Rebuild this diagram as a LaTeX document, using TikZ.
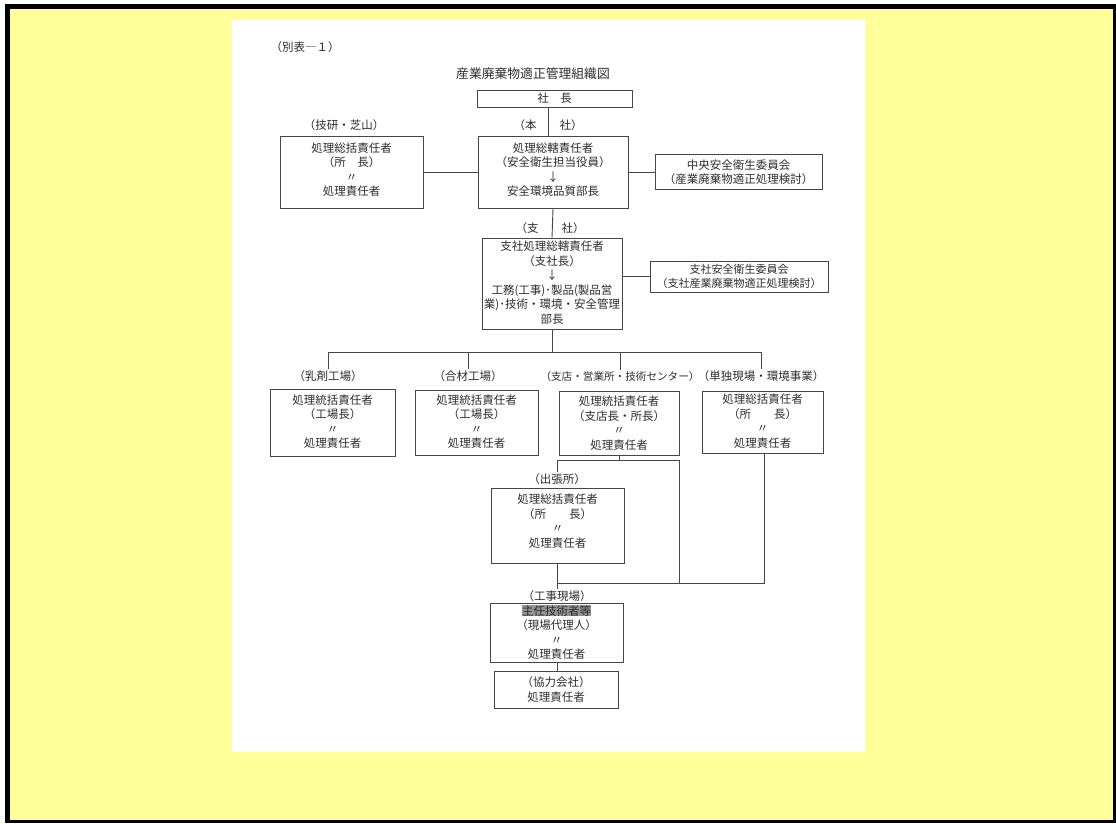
\documentclass[tikz,border=0pt]{standalone}
\usepackage{fontspec}
\newfontfamily\jp{Noto Sans CJK JP}
\definecolor{bgyellow}{RGB}{255,255,153}
\definecolor{ink}{RGB}{45,45,45}
\definecolor{rule}{RGB}{70,70,70}
\newcommand\jpf{\jp\fontsize{11.5}{14.5}\selectfont}
\newcommand\jps{\jp\fontsize{10.6}{14.5}\selectfont}
\newcommand\dn[1]{\rule[-#1]{0pt}{#1}}
\begin{document}
\begin{tikzpicture}[x=1pt,y=-1pt,
  box/.style={draw=rule, line width=0.9pt, inner sep=1pt, align=center, font=\jpf, text=ink},
  lbl/.style={inner sep=1pt, font=\jpf, text=ink},
  link/.style={draw=rule, line width=0.9pt}]
\useasboundingbox (0,0) rectangle (1116,823);
% frame and page
\fill[black] (5,4) rectangle (1116,823);
\fill[bgyellow] (10,9) rectangle (1113,820);
\fill[white] (232,20) rectangle (865,752);

% titles
\node[lbl] (betsu) at (305,47) {（別表―１）};
\node[lbl, font=\jp\fontsize{12.8}{15}\selectfont] (title) at (533,74) {産業廃棄物適正管理組織図};

% top
\node[box, minimum width=155pt, minimum height=17pt] (shacho) at (554.5,98.5) {社　長};
\node[lbl] (gikenL) at (344,125) {（技研・芝山）};
\node[lbl] (honshaL) at (548,125) {（本　　社）};
\node[box, minimum width=143pt, minimum height=72pt] (giken) at (351.5,172) {処理総括責任者\\（所　長）\\〃\\処理責任者\dn{6pt}};
\node[box, minimum width=150pt, minimum height=72pt] (honsha) at (553,172) {処理総轄責任者\\（安全衛生担当役員）\\↓\\安全環境品質部長\dn{6pt}};
\node[box, minimum width=167pt, minimum height=35pt] (chuo) at (738.5,172) {中央安全衛生委員会\\（産業廃棄物適正処理検討）};

\draw[link] ([xshift=-6pt]shacho.south) -- ([xshift=-6pt]shacho.south |- honsha.north);
\draw[link] (giken.east) -- (honsha.west);
\draw[link] (honsha.east) -- (chuo.west);

% branch office
\node[lbl] (shishaL) at (550,228) {（支　　社）};
\node[box, minimum width=140pt, minimum height=91pt, inner xsep=0pt] (shisha) at (552,283.5) {支社処理総轄責任者\\（支社長）\\↓\\工務(工事)･製品(製品営\\業)･技術・環境・安全管理\\部長\dn{3pt}};
\node[box, minimum width=178pt, minimum height=31pt, font=\jp\fontsize{11}{13.5}\selectfont] (shiiin) at (739,276.5) {支社安全衛生委員会\\（支社産業廃棄物適正処理検討）};

\draw[link] (honsha.south) -- (shisha.north);
\draw[link] (shisha.east |- shiiin.west) -- (shiiin.west);

% row of sites
\node[lbl] (nyuzaiL) at (328,376) {（乳剤工場）};
\node[lbl] (gozaiL) at (468,376) {（合材工場）};
\node[lbl, font=\jps] (shitenL) at (620,376) {（支店・営業所・技術センター）};
\node[lbl] (tandokuL) at (761,376) {（単独現場・環境事業）};

\coordinate (bus) at (0,352);
\draw[link] (shisha.south) -- (shisha.south |- bus);
\draw[link] (nyuzaiL.north |- bus) -- (tandokuL.north |- bus);
\draw[link] (nyuzaiL.north |- bus) -- (nyuzaiL.north);
\draw[link] (gozaiL.north |- bus) -- (gozaiL.north);
\draw[link] (shitenL.north |- bus) -- (shitenL.north);
\draw[link] (tandokuL.north |- bus) -- (tandokuL.north);

\node[box, minimum width=125pt, minimum height=67pt] (nyuzai) at (332.5,422.5) {処理統括責任者\\（工場長）\\〃\\処理責任者\dn{3pt}};
\node[box, minimum width=123pt, minimum height=65pt] (gozai) at (476.5,422.5) {処理統括責任者\\（工場長）\\〃\\処理責任者\dn{3pt}};
\node[box, minimum width=120pt, minimum height=64pt] (shiten) at (619,423) {処理統括責任者\\（支店長・所長）\\〃\\処理責任者};
\node[box, minimum width=121pt, minimum height=62pt] (tandoku) at (762.5,422) {処理総括責任者\\（所　　長）\\〃\\処理責任者\dn{3pt}};

% lower
\node[lbl] (shucchoL) at (557,479) {（出張所）};
\node[box, minimum width=133pt, minimum height=75pt] (shuccho) at (557.5,525.5) {処理総括責任者\\（所　　長）\\〃\\処理責任者\dn{10pt}};
\node[lbl] (kojiL) at (557,596) {（工事現場）};
\node[box, minimum width=133pt, minimum height=59pt] (koji) at (556.5,632.5) {{\setlength\fboxsep{0pt}\colorbox{black!42}{主任技術者等}}\\（現場代理人）\\〃\\処理責任者};
\node[box, minimum width=124pt, minimum height=37pt] (kyoryoku) at (556,689.5) {（協力会社）\\処理責任者};

\coordinate (j1) at (679,460);
\coordinate (j2) at (0,583);
\draw[link] (shiten.south) -- (shiten.south |- j1);
\draw[link] (shucchoL.north) -- (shucchoL.north |- j1) -- (j1) -- (j1 |- j2);
\draw[link] ([xshift=1.5pt]tandoku.south) -- ([xshift=1.5pt]tandoku.south |- j2) -- (shucchoL.north |- j2);
\draw[link] (shucchoL.north |- shuccho.south) -- (kojiL.north);
\draw[link] (kojiL.north |- koji.south) -- (kojiL.north |- kyoryoku.north);
\end{tikzpicture}
\end{document}
